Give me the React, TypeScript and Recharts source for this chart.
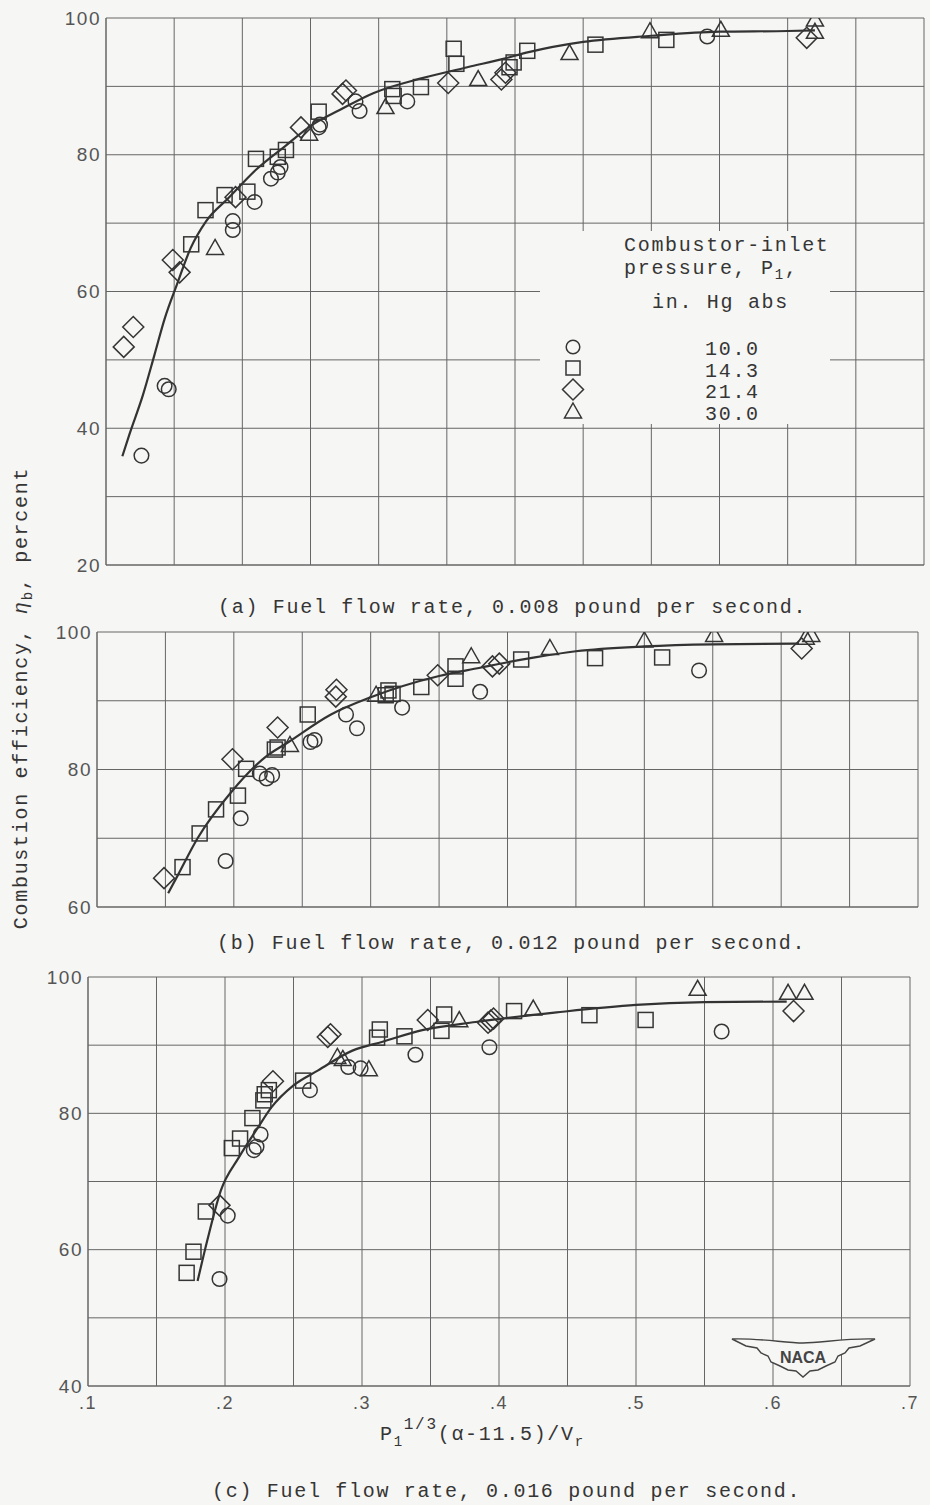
import type { FC } from 'react';
import { ComposedChart, Scatter, Line, XAxis, YAxis, CartesianGrid } from 'recharts';

// scanned NACA figure: efficiency vs correlating parameter, three fuel flows
const BG = '#f6f6f4';
const INK = '#353535';
const GRID = '#666';
const MONO = "'Liberation Mono', 'DejaVu Sans Mono', monospace";
const SANS = "'Liberation Sans', 'DejaVu Sans', sans-serif";

const X_TICKS = [0.1, 0.15, 0.2, 0.25, 0.3, 0.35, 0.4, 0.45, 0.5, 0.55, 0.6, 0.65, 0.7];
const Y_TICKS_A = [20, 30, 40, 50, 60, 70, 80, 90, 100];
const Y_TICKS_B = [60, 70, 80, 90, 100];
const Y_TICKS_C = [40, 50, 60, 70, 80, 90, 100];

const PRESSURES = ['10.0', '14.3', '21.4', '30.0'];

// (a) 0.008 lb/sec
const circlesA = [[0.126, 36.0], [0.143, 46.2], [0.146, 45.7], [0.193, 70.3], [0.193, 69.0], [0.209, 73.1], [0.221, 76.5], [0.226, 77.4], [0.228, 78.2], [0.256, 84.0], [0.257, 84.4], [0.283, 87.8], [0.286, 86.4], [0.321, 87.8], [0.541, 97.3]];
const squaresA = [[0.1625, 66.9], [0.173, 71.9], [0.187, 74.1], [0.2037, 74.6], [0.21, 79.4], [0.226, 79.7], [0.232, 80.7], [0.256, 86.3], [0.31, 89.6], [0.311, 88.6], [0.331, 89.9], [0.355, 95.5], [0.357, 93.3], [0.396, 92.8], [0.399, 93.5], [0.409, 95.2], [0.459, 96.1], [0.511, 96.8]];
const diamondsA = [[0.113, 51.9], [0.12, 54.8], [0.149, 64.6], [0.154, 62.8], [0.195, 73.8], [0.243, 84.0], [0.2735, 88.9], [0.276, 89.4], [0.351, 90.5], [0.39, 91.0], [0.393, 92.0], [0.614, 97.1]];
const trianglesA = [[0.18, 66.3], [0.249, 83.0], [0.305, 86.9], [0.373, 91.0], [0.44, 94.8], [0.499, 98.0], [0.551, 98.2], [0.62, 99.7], [0.62, 97.9]];
const curveA = [[0.112, 35.9], [0.117, 39], [0.127, 44.8], [0.1355, 50.7], [0.143, 56], [0.152, 61], [0.162, 66.3], [0.1735, 70.3], [0.19, 73.7], [0.21, 77.8], [0.231, 81.2], [0.2515, 84.4], [0.271, 86.5], [0.296, 89], [0.332, 91.2], [0.365, 92.8], [0.393, 94.1], [0.41, 95], [0.45, 96.5], [0.5, 97.4], [0.55, 98], [0.6, 98.1], [0.62, 98.2]];

// (b) 0.012 lb/sec
const circlesB = [[0.194, 66.7], [0.205, 72.9], [0.219, 79.4], [0.224, 78.7], [0.228, 79.2], [0.256, 84.0], [0.259, 84.3], [0.282, 88.0], [0.29, 86.0], [0.323, 89.0], [0.38, 91.3], [0.54, 94.4]];
const squaresB = [[0.1625, 65.8], [0.175, 70.7], [0.187, 74.2], [0.203, 76.2], [0.209, 80.1], [0.23, 82.9], [0.232, 83.2], [0.254, 88.0], [0.311, 90.8], [0.313, 91.5], [0.316, 91.0], [0.337, 92.0], [0.362, 95.0], [0.362, 93.2], [0.41, 96.0], [0.464, 96.2], [0.513, 96.3]];
const diamondsB = [[0.149, 64.2], [0.199, 81.5], [0.232, 86.1], [0.275, 91.6], [0.2745, 90.6], [0.349, 93.7], [0.389, 95.0], [0.394, 95.4], [0.615, 97.6]];
const trianglesB = [[0.241, 83.5], [0.304, 90.8], [0.3735, 96.4], [0.431, 97.6], [0.5, 98.7], [0.551, 99.5], [0.618, 99.1], [0.622, 99.5]];
const curveB = [[0.152, 62], [0.159, 64.6], [0.1735, 70], [0.198, 76.7], [0.223, 81.8], [0.24, 84], [0.271, 88], [0.3, 90.5], [0.35, 93.6], [0.38, 94.8], [0.4, 95.6], [0.42, 96.3], [0.45, 97.2], [0.5, 97.9], [0.55, 98.2], [0.613, 98.3]];

// (c) 0.016 lb/sec
const circlesC = [[0.196, 55.7], [0.202, 65.0], [0.221, 74.6], [0.223, 75.1], [0.226, 76.9], [0.262, 83.4], [0.29, 86.8], [0.299, 86.6], [0.339, 88.6], [0.393, 89.7], [0.5625, 92.0]];
const squaresC = [[0.172, 56.6], [0.177, 59.7], [0.186, 65.6], [0.205, 74.9], [0.211, 76.3], [0.22, 79.3], [0.228, 81.9], [0.229, 82.8], [0.232, 83.4], [0.257, 84.8], [0.313, 92.3], [0.311, 91.1], [0.331, 91.3], [0.36, 94.5], [0.358, 92.1], [0.411, 95.0], [0.466, 94.4], [0.507, 93.7]];
const diamondsC = [[0.196, 66.5], [0.235, 84.7], [0.275, 91.2], [0.277, 91.6], [0.348, 93.7], [0.392, 93.3], [0.394, 93.6], [0.396, 93.9], [0.615, 95.0]];
const trianglesC = [[0.282, 88.2], [0.286, 87.9], [0.305, 86.4], [0.371, 93.6], [0.425, 95.3], [0.545, 98.2], [0.611, 97.6], [0.623, 97.6]];
const curveC = [[0.18, 55.4], [0.187, 61.3], [0.197, 68.7], [0.21, 73.5], [0.224, 77.9], [0.234, 80.9], [0.25, 84.1], [0.268, 86.3], [0.293, 89.2], [0.315, 90.5], [0.344, 92.2], [0.383, 93.4], [0.442, 94.8], [0.5, 95.9], [0.55, 96.3], [0.61, 96.4]];

const pts = (arr: number[][]) => arr.map(([x, y]) => ({ x, y }));

const MARK = { fill: 'none', stroke: INK, strokeWidth: 1.5 };

const Ring = (p: any) => <circle cx={p.cx} cy={p.cy} r={7.3} {...MARK} />;
const Box = (p: any) => <rect x={p.cx - 7.5} y={p.cy - 7.5} width={15} height={15} {...MARK} />;
const Kite = (p: any) => (
    <path d={`M${p.cx},${p.cy - 10.5}L${p.cx + 10.5},${p.cy}L${p.cx},${p.cy + 10.5}L${p.cx - 10.5},${p.cy}Z`} {...MARK} />
);
const Tri = (p: any) => (
    <path d={`M${p.cx},${p.cy - 9}L${p.cx + 8.5},${p.cy + 6}L${p.cx - 8.5},${p.cy + 6}Z`} {...MARK} />
);

const YAXIS_W = 60;
const XAXIS_H = 30;

interface PanelProps {
    top: number;
    height: number;
    box: { left: number; right: number; top: number; bottom: number };
    yDomain: [number, number];
    yTicks: number[];
    xLabels: boolean;
    circles: number[][];
    squares: number[][];
    diamonds: number[][];
    triangles: number[][];
    curve: number[][];
}

const Panel: FC<PanelProps> = ({ top, height, box, yDomain, yTicks, xLabels, circles, squares, diamonds, triangles, curve }) => (
    <div style={{ position: 'absolute', left: 0, top, width: 930, height }}>
        <ComposedChart
            width={930}
            height={height}
            margin={{
                top: box.top - top,
                bottom: top + height - box.bottom - XAXIS_H,
                left: box.left - YAXIS_W,
                right: 930 - box.right,
            }}
        >
            <CartesianGrid stroke={GRID} strokeWidth={1} />
            <XAxis
                type="number"
                dataKey="x"
                domain={[0.1, 0.7]}
                ticks={X_TICKS}
                allowDataOverflow
                height={XAXIS_H}
                tickLine={false}
                tickSize={0}
                tickMargin={10}
                axisLine={{ stroke: GRID }}
                tick={{ fill: '#555', fontFamily: SANS, fontSize: 18, letterSpacing: 1.5 }}
                tickFormatter={(v: number) => {
                    const k = Math.round(v * 100);
                    return xLabels && k % 10 === 0 ? '.' + k / 10 : '';
                }}
            />
            <YAxis
                type="number"
                dataKey="y"
                domain={yDomain}
                ticks={yTicks}
                allowDataOverflow
                width={YAXIS_W}
                tickLine={false}
                tickSize={0}
                tickMargin={5}
                axisLine={{ stroke: GRID }}
                tick={{ fill: '#555', fontFamily: SANS, fontSize: 19, letterSpacing: 1.5 }}
                tickFormatter={(v: number) => (v % 20 === 0 ? String(v) : '')}
            />
            <Line data={pts(curve)} dataKey="y" type="monotone" dot={false} stroke="#333" strokeWidth={2.2} isAnimationActive={false} />
            <Scatter data={pts(circles)} dataKey="y" shape={Ring} isAnimationActive={false} />
            <Scatter data={pts(squares)} dataKey="y" shape={Box} isAnimationActive={false} />
            <Scatter data={pts(diamonds)} dataKey="y" shape={Kite} isAnimationActive={false} />
            <Scatter data={pts(triangles)} dataKey="y" shape={Tri} isAnimationActive={false} />
        </ComposedChart>
    </div>
);

const Overlay: FC = () => {
    const t = { fontFamily: MONO, fontSize: 20, letterSpacing: 1.7, fill: INK };
    const lx = 573;
    return (
        <svg width={930} height={1505} style={{ position: 'absolute', left: 0, top: 0, pointerEvents: 'none' }}>
            {/* legend block sits on the grid of panel (a) */}
            <rect x={540} y={231} width={290} height={193} fill={BG} />
            <text x={624} y={251} {...t}>Combustor-inlet</text>
            <text x={624} y={274} {...t}>
                pressure, P<tspan dy={5} fontSize={14}>1</tspan><tspan dy={-5}>,</tspan>
            </text>
            <text x={652} y={308} {...t}>in. Hg abs</text>
            <circle cx={lx} cy={347} r={6.8} {...MARK} />
            <rect x={lx - 7} y={361} width={14} height={14} {...MARK} />
            <path d={`M${lx},${379}L${lx + 10.5},${389.5}L${lx},${400}L${lx - 10.5},${389.5}Z`} {...MARK} />
            <path d={`M${lx},${403}L${lx + 8.5},${418}L${lx - 8.5},${418}Z`} {...MARK} />
            {PRESSURES.map((p, i) => (
                <text key={p} x={705} y={355 + i * 21.5} {...t}>{p}</text>
            ))}

            <text x={218} y={613} {...t}>(a) Fuel flow rate, 0.008 pound per second.</text>
            <text x={217} y={949} {...t}>(b) Fuel flow rate, 0.012 pound per second.</text>
            <text x={212} y={1497} {...t}>(c) Fuel flow rate, 0.016 pound per second.</text>

            <text transform="translate(27,698) rotate(-90)" textAnchor="middle" {...t}>
                Combustion efficiency, <tspan fontStyle="italic">η</tspan><tspan dy={5} fontSize={14}>b</tspan><tspan dy={-5}>, percent</tspan>
            </text>

            <text x={380} y={1440} {...t}>
                P<tspan dy={6} fontSize={14}>1</tspan><tspan dy={-17} fontSize={16}>1/3</tspan><tspan dy={11}>(α-11.5)/V</tspan><tspan dy={6} fontSize={14}>r</tspan>
            </text>

            {/* NACA wings */}
            <path
                d="M732,1339 C760,1338 785,1343 803,1343 C821,1343 846,1338 875,1339 L860,1346 L849,1348 L845,1353 L838,1356 L835,1362 L826,1366 L818,1370 L810,1371 L803,1377 L796,1371 L788,1370 L780,1366 L771,1362 L768,1356 L761,1353 L757,1348 L746,1346 Z"
                fill={BG}
                stroke="#444"
                strokeWidth={1.4}
            />
            <text x={803} y={1363} textAnchor="middle" fontFamily={SANS} fontWeight="bold" fontSize={16} fill="#444">NACA</text>
        </svg>
    );
};

export default function App() {
    return (
        <div style={{ position: 'absolute', left: 0, top: 0, width: 930, height: 1505, background: BG, overflow: 'hidden' }}>
            <Panel top={0} height={600} box={{ left: 106, right: 924, top: 18, bottom: 565 }} yDomain={[20, 100]} yTicks={Y_TICKS_A} xLabels={false}
                circles={circlesA} squares={squaresA} diamonds={diamondsA} triangles={trianglesA} curve={curveA} />
            <Panel top={612} height={330} box={{ left: 97, right: 918, top: 632, bottom: 907 }} yDomain={[60, 100]} yTicks={Y_TICKS_B} xLabels={false}
                circles={circlesB} squares={squaresB} diamonds={diamondsB} triangles={trianglesB} curve={curveB} />
            <Panel top={955} height={470} box={{ left: 88, right: 910, top: 977, bottom: 1386 }} yDomain={[40, 100]} yTicks={Y_TICKS_C} xLabels
                circles={circlesC} squares={squaresC} diamonds={diamondsC} triangles={trianglesC} curve={curveC} />
            <Overlay />
        </div>
    );
}
